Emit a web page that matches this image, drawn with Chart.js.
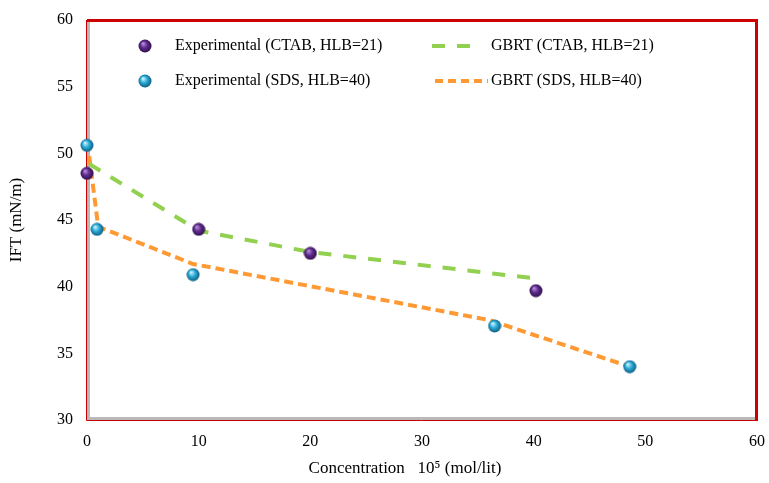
<!DOCTYPE html>
<html>
<head>
<meta charset="utf-8">
<script src="https://cdn.jsdelivr.net/npm/chart.js@4.4.1/dist/chart.umd.min.js"></script>
<style>
  html, body { margin: 0; padding: 0; background: #fff; }
  #wrap { width: 769px; height: 483px; }
</style>
</head>
<body>
<div id="wrap"><canvas id="c" width="769" height="483"></canvas></div>
<script>
const ctabExpX = [0, 10, 20, 40.2];
const ctabExpY = [48.5, 44.3, 42.5, 39.7];
const sdsExpX = [0, 0.9, 9.5, 36.5, 48.6];
const sdsExpY = [50.6, 44.3, 40.9, 37.05, 34.0];
const ctabGbrtX = [0.2, 10, 20, 40.3];
const ctabGbrtY = [49.2, 44.2, 42.6, 40.6];
const sdsGbrtX = [0.2, 1, 9.5, 36, 48.6];
const sdsGbrtY = [49.8, 44.5, 41.7, 37.5, 34.0];
const xTicks = [0, 10, 20, 30, 40, 50, 60];
const yTicks = [30, 35, 40, 45, 50, 55, 60];

const labels = [
  "Experimental (CTAB, HLB=21)",
  "Experimental (SDS, HLB=40)",
  "GBRT (CTAB, HLB=21)",
  "GBRT (SDS, HLB=40)"
];

const FONT = "'Liberation Serif', 'Times New Roman', serif";

function pts(xs, ys) {
  return xs.map((x, i) => ({ x: x, y: ys[i] }));
}

// little shaded ball used as point marker
function ball(light, mid, dark) {
  const s = 14;
  const cv = document.createElement("canvas");
  cv.width = s; cv.height = s;
  const g = cv.getContext("2d");
  const grad = g.createRadialGradient(5, 4.5, 0.5, 7, 7, 7);
  grad.addColorStop(0, light);
  grad.addColorStop(0.45, mid);
  grad.addColorStop(1, dark);
  g.fillStyle = grad;
  g.beginPath();
  g.arc(7, 7, 6.5, 0, Math.PI * 2);
  g.fill();
  return cv;
}
const purpleBall = ball("#b58ad8", "#5e2b8c", "#2a0c45");
const cyanBall = ball("#c8f4ff", "#2aaad6", "#0b5578");

const green = "#92d050";
const orange = "#ff9933";

// frame + legend drawn over the plot area
const framePlugin = {
  id: "frame",
  beforeDatasetsDraw(chart) {
    const { ctx, chartArea: a } = chart;
    ctx.save();
    ctx.strokeStyle = "#b9b9b9";
    ctx.lineWidth = 3;
    ctx.beginPath();
    ctx.moveTo(a.left + 1.5, a.top);
    ctx.lineTo(a.left + 1.5, a.bottom - 1.5);
    ctx.lineTo(a.right, a.bottom - 1.5);
    ctx.stroke();
    ctx.strokeStyle = "#cc0000";
    ctx.lineWidth = 1;
    ctx.beginPath();
    ctx.moveTo(a.left - 0.5, a.top);
    ctx.lineTo(a.left - 0.5, a.bottom + 0.5);
    ctx.lineTo(a.right, a.bottom + 0.5);
    ctx.stroke();
    ctx.lineWidth = 3;
    ctx.beginPath();
    ctx.moveTo(a.left, a.top + 0.5);
    ctx.lineTo(a.right - 0.5, a.top + 0.5);
    ctx.lineTo(a.right - 0.5, a.bottom + 1);
    ctx.stroke();
    ctx.restore();
  },
  afterDraw(chart) {
    const { ctx } = chart;
    ctx.save();
    ctx.font = "16px " + FONT;
    ctx.fillStyle = "#000";
    ctx.textBaseline = "middle";
    const rows = [46, 81];
    ctx.drawImage(purpleBall, 138, rows[0] - 7);
    ctx.drawImage(cyanBall, 138, rows[1] - 7);
    ctx.fillText(labels[0], 175, rows[0]);
    ctx.fillText(labels[1], 175, rows[1]);
    ctx.lineWidth = 4;
    ctx.strokeStyle = green;
    ctx.setLineDash([13, 12]);
    ctx.beginPath();
    ctx.moveTo(432, rows[0]);
    ctx.lineTo(470, rows[0]);
    ctx.stroke();
    ctx.strokeStyle = orange;
    ctx.setLineDash([8, 5]);
    ctx.beginPath();
    ctx.moveTo(435, rows[1]);
    ctx.lineTo(488, rows[1]);
    ctx.stroke();
    ctx.setLineDash([]);
    ctx.fillText(labels[2], 491, rows[0]);
    ctx.fillText(labels[3], 491, rows[1]);
    ctx.restore();
  }
};

new Chart(document.getElementById("c"), {
  type: "scatter",
  data: {
    datasets: [
      {
        label: labels[0],
        data: pts(ctabExpX, ctabExpY),
        pointStyle: purpleBall,
        clip: false,
        order: 0
      },
      {
        label: labels[1],
        data: pts(sdsExpX, sdsExpY),
        pointStyle: cyanBall,
        clip: false,
        order: 0
      },
      {
        label: labels[2],
        data: pts(ctabGbrtX, ctabGbrtY),
        showLine: true,
        pointRadius: 0,
        borderColor: green,
        borderWidth: 4,
        borderDash: [13, 12],
        clip: false,
        order: 1
      },
      {
        label: labels[3],
        data: pts(sdsGbrtX, sdsGbrtY),
        showLine: true,
        pointRadius: 0,
        borderColor: orange,
        borderWidth: 4,
        borderDash: [9, 5],
        clip: false,
        order: 1
      }
    ]
  },
  options: {
    responsive: false,
    animation: false,
    layout: { padding: { top: 20, right: 12, left: 0, bottom: 0 } },
    plugins: {
      legend: { display: false },
      tooltip: { enabled: false }
    },
    scales: {
      x: {
        type: "linear",
        min: 0,
        max: 60,
        afterBuildTicks: (s) => { s.ticks = xTicks.map(v => ({ value: v })); },
        afterFit: (s) => { s.height = 63; s.paddingLeft = 0; s.paddingRight = 0; },
        grid: { display: false, drawTicks: false },
        border: { display: false },
        ticks: { color: "#000", font: { family: FONT, size: 16 }, padding: 12 },
        title: {
          display: true,
          text: "Concentration   10\u2075 (mol/lit)        ",
          color: "#000",
          font: { family: FONT, size: 17 },
          padding: { top: 6 }
        }
      },
      y: {
        type: "linear",
        min: 30,
        max: 60,
        afterBuildTicks: (s) => { s.ticks = yTicks.map(v => ({ value: v })); },
        afterFit: (s) => { s.width = 87; s.paddingTop = 0; s.paddingBottom = 0; },
        grid: { display: false, drawTicks: false },
        border: { display: false },
        ticks: { color: "#000", font: { family: FONT, size: 16 }, padding: 14 },
        title: {
          display: true,
          text: "IFT (mN/m)",
          color: "#000",
          font: { family: FONT, size: 17 },
          padding: { top: 6, bottom: 0 }
        }
      }
    }
  },
  plugins: [framePlugin]
});
</script>
</body>
</html>
